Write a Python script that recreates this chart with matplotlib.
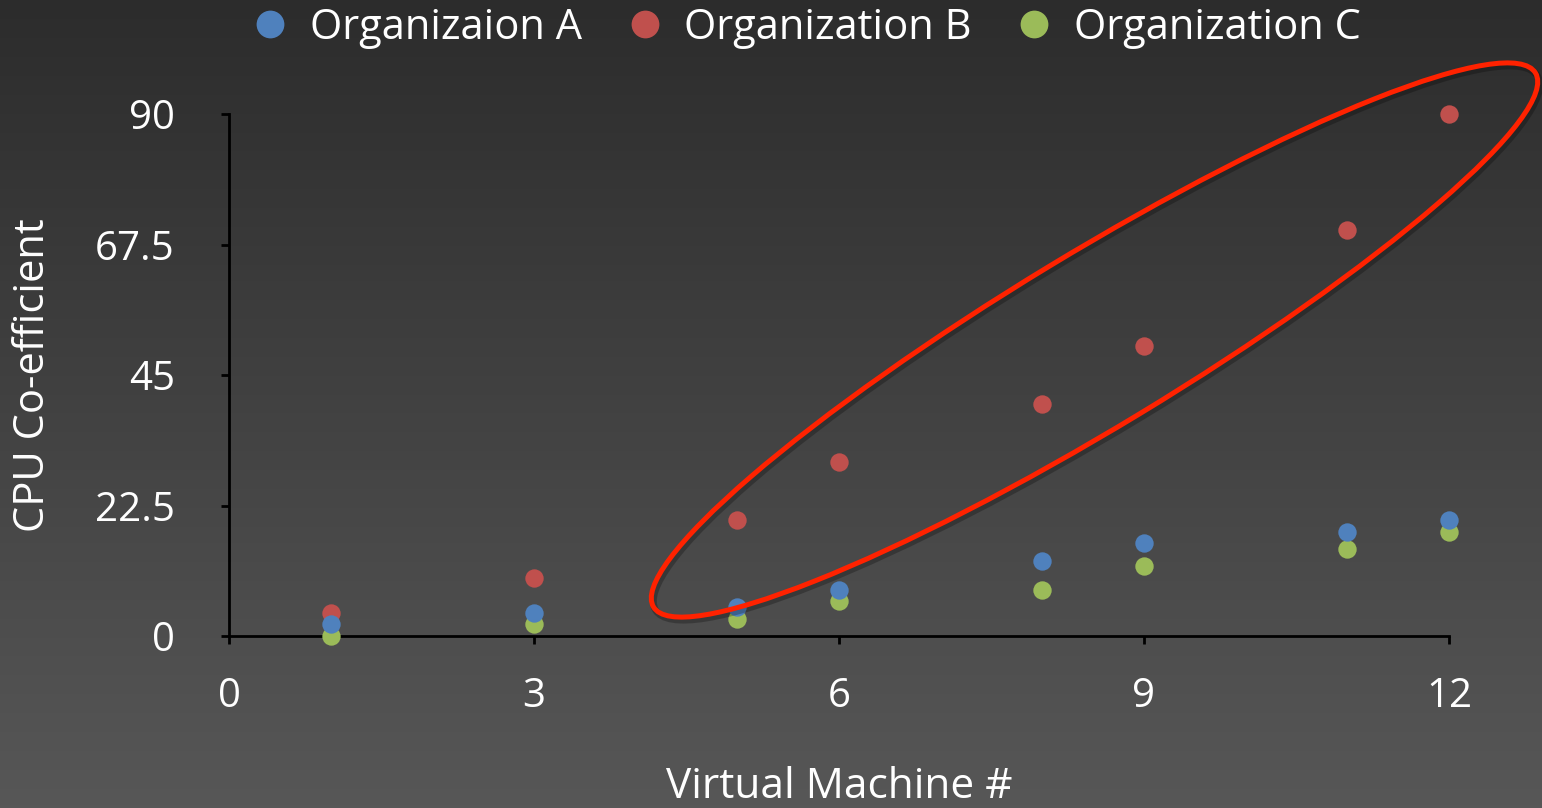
import numpy as np
import matplotlib
matplotlib.use("Agg")
import matplotlib.pyplot as plt
from matplotlib.patches import Ellipse
from matplotlib.transforms import IdentityTransform
from matplotlib.colors import LinearSegmentedColormap

plt.rcParams['font.family'] = ['Open Sans', 'DejaVu Sans']

vm = [1, 3, 5, 6, 8, 9, 11, 12]
org_a = [2, 4, 5, 8, 13, 16, 18, 20]
org_b = [4, 10, 20, 30, 40, 50, 70, 90]
org_c = [0, 2, 3, 6, 8, 12, 15, 18]
series_names = ["Organizaion A", "Organization B", "Organization C"]
colors = ["#4f81bd", "#c0504d", "#9bbb59"]
x_ticks = [0, 3, 6, 9, 12]
y_ticks = [0, 22.5, 45, 67.5, 90]
y_tick_labels = ["0", "22.5", "45", "67.5", "90"]

W, H = 1542, 808
fig = plt.figure(figsize=(W / 100, H / 100), dpi=100)

# gradient background
bg = fig.add_axes([0, 0, 1, 1], zorder=-10)
grad = np.linspace(0, 1, 256).reshape(-1, 1)
cmap = LinearSegmentedColormap.from_list("bg", ["#2c2c2c", "#575757"])
bg.imshow(grad, aspect='auto', cmap=cmap, extent=[0, 1, 0, 1], origin='upper')
bg.axis('off')

ax = fig.add_axes([229 / W, 172 / H, 1220 / W, 522 / H])
ax.set_facecolor('none')
ax.scatter(vm, org_b, s=175, color=colors[1], zorder=3, clip_on=False, linewidths=0)
ax.scatter(vm, org_c, s=175, color=colors[2], zorder=3, clip_on=False, linewidths=0)
ax.scatter(vm, org_a, s=175, color=colors[0], zorder=4, clip_on=False, linewidths=0)

ax.set_xlim(0, 12)
ax.set_ylim(0, 90)
ax.set_xticks(x_ticks)
ax.set_xticklabels([str(t) for t in x_ticks])
ax.set_yticks(y_ticks)
ax.set_yticklabels(y_tick_labels)
for s in ['top', 'right']:
    ax.spines[s].set_visible(False)
for s in ['left', 'bottom']:
    ax.spines[s].set_color('black')
    ax.spines[s].set_linewidth(2)
ax.tick_params(axis='both', colors='black', width=2, length=6, labelcolor='white', labelsize=29)
ax.tick_params(axis='x', pad=23)
ax.tick_params(axis='y', pad=33)

fig.text(839 / W, 1 - 787 / H, "Virtual Machine #", color='white', fontsize=30.5, ha='center', va='center')
fig.text(33 / W, 1 - 375 / H, "CPU Co-efficient", color='white', fontsize=30, ha='center', va='center', rotation=90)

handles = [plt.Line2D([], [], marker='o', linestyle='none', markersize=20, color=c, markeredgewidth=0) for c in colors]
leg = fig.legend(handles, series_names, loc='center', bbox_to_anchor=(805 / W, 1 - 28 / H), ncol=3,
                 frameon=False, fontsize=30, labelcolor='white', handletextpad=0.45, columnspacing=1.0,
                 handlelength=1.0)

# highlight ellipse (in pixel coords) with soft shadow
cx, cy = 1094.5, H - 340
shadow = Ellipse((cx + 2, cy - 3), width=1031, height=173, angle=31.2, fill=False,
                 edgecolor='black', alpha=0.25, linewidth=5, transform=IdentityTransform(), zorder=9)
fig.patches.append(shadow)
ell = Ellipse((cx, cy), width=1031, height=173, angle=31.2, fill=False,
              edgecolor='#ff2200', linewidth=3.6, transform=IdentityTransform(), zorder=10)
fig.patches.append(ell)

fig.savefig("out.png", dpi=100)
